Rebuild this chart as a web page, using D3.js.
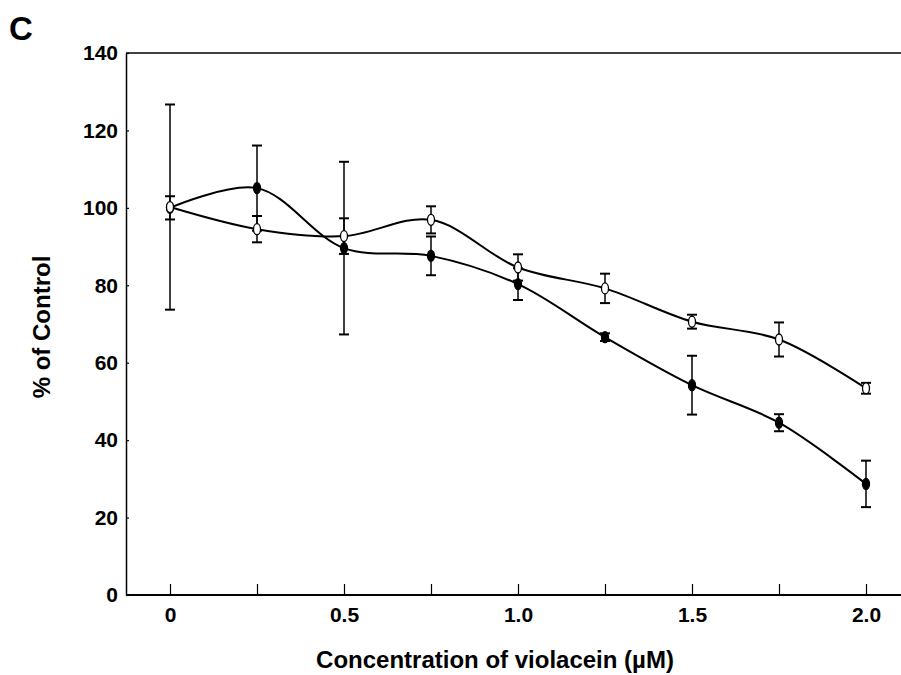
<!DOCTYPE html>
<html>
<head>
<meta charset="utf-8">
<script src="https://cdn.jsdelivr.net/npm/d3@7"></script>
<style>
  body { margin: 0; background: #fff; }
  text { font-family: "Liberation Sans", Arial, sans-serif; font-weight: bold; fill: #000; }
</style>
</head>
<body>
<div id="chart"></div>
<script>
// concentrations (uM)
var conc = [0, 0.25, 0.5, 0.75, 1.0, 1.25, 1.5, 1.75, 2.0];
// filled circles
var filledMean = [100, 105.1, 89.6, 87.6, 80.3, 66.6, 54.2, 44.5, 28.7];
var filledErr  = [3, 11, 22.3, 5, 4.1, 1, 7.6, 2.2, 6];
// open circles
var openMean = [100.2, 94.5, 92.7, 96.9, 84.6, 79.2, 70.6, 66, 53.4];
var openErr  = [26.5, 3.4, 4.6, 3.5, 3.4, 3.8, 1.8, 4.4, 1.4];

var xTicks = [0, 0.25, 0.5, 0.75, 1.0, 1.25, 1.5, 1.75, 2.0];
var xTickLabels = {0: "0", 0.5: "0.5", 1: "1.0", 1.5: "1.5", 2: "2.0"};
var yTicks = [0, 20, 40, 60, 80, 100, 120, 140];

var width = 901, height = 675;

var svg = d3.select("#chart").append("svg")
    .attr("width", width)
    .attr("height", height);

var x = d3.scaleLinear().domain([0, 2]).range([170, 866]),
    y = d3.scaleLinear().domain([0, 140]).range([595, 53]);

var left = 126, right = 901;

// frame top line
svg.append("line")
    .attr("x1", left).attr("x2", right)
    .attr("y1", y(140)).attr("y2", y(140))
    .attr("stroke", "#000").attr("stroke-width", 1.5);

// x axis
var xaxis = svg.append("g")
    .attr("transform", "translate(0," + y(0) + ")")
    .call(d3.axisBottom(x)
        .tickValues(xTicks)
        .tickSizeInner(-11)
        .tickSizeOuter(0)
        .tickPadding(16)
        .tickFormat(function(d) { return xTickLabels[d] || ""; }));
xaxis.select(".domain").remove();
xaxis.selectAll("line").attr("stroke", "#000").attr("stroke-width", 1.2);
xaxis.selectAll("text").style("font-size", "21px").attr("font-family", null).attr("dy", "0.5em");
svg.append("line")
    .attr("x1", left).attr("x2", right)
    .attr("y1", y(0)).attr("y2", y(0))
    .attr("stroke", "#000").attr("stroke-width", 2);

// y axis
var yaxis = svg.append("g")
    .attr("transform", "translate(" + left + ",0)")
    .call(d3.axisLeft(y)
        .tickValues(yTicks)
        .tickSizeInner(-3)
        .tickSizeOuter(0)
        .tickPadding(8));
yaxis.select(".domain").attr("stroke", "#000").attr("stroke-width", 1.5);
yaxis.selectAll("line").attr("stroke", "#000").attr("stroke-width", 1.2);
yaxis.selectAll("text").style("font-size", "21px").attr("font-family", null);

// titles
svg.append("text")
    .attr("x", 495).attr("y", 668)
    .attr("text-anchor", "middle")
    .style("font-size", "24px")
    .text("Concentration of violacein (\u00b5M)");

svg.append("text")
    .attr("transform", "translate(50,327) rotate(-90)")
    .attr("text-anchor", "middle")
    .style("font-size", "24px")
    .text("% of Control");

svg.append("text")
    .attr("x", 9).attr("y", 40)
    .style("font-size", "33px")
    .text("C");

var series = [
    {mean: filledMean, err: filledErr, fill: "#000"},
    {mean: openMean, err: openErr, fill: "#fff"}
];

var line = d3.line()
    .curve(d3.curveCatmullRom.alpha(0.5))
    .x(function(d) { return x(d[0]); })
    .y(function(d) { return y(d[1]); });

series.forEach(function(s) {
    var pts = conc.map(function(c, i) { return [c, s.mean[i], s.err[i]]; });

    svg.append("path")
        .datum(pts)
        .attr("d", line)
        .attr("fill", "none")
        .attr("stroke", "#000")
        .attr("stroke-width", 2);

    var eb = svg.append("g").selectAll("g")
        .data(pts)
        .enter().append("g");
    eb.append("line")
        .attr("x1", function(d) { return x(d[0]); })
        .attr("x2", function(d) { return x(d[0]); })
        .attr("y1", function(d) { return y(d[1] - d[2]); })
        .attr("y2", function(d) { return y(d[1] + d[2]); })
        .attr("stroke", "#000").attr("stroke-width", 1.5);
    [-1, 1].forEach(function(sg) {
        eb.append("line")
            .attr("x1", function(d) { return x(d[0]) - 5; })
            .attr("x2", function(d) { return x(d[0]) + 5; })
            .attr("y1", function(d) { return y(d[1] + sg * d[2]); })
            .attr("y2", function(d) { return y(d[1] + sg * d[2]); })
            .attr("stroke", "#000").attr("stroke-width", 2);
    });
});

series.forEach(function(s) {
    svg.append("g").selectAll("ellipse")
        .data(conc)
        .enter().append("ellipse")
        .attr("cx", function(d) { return x(d); })
        .attr("cy", function(d, i) { return y(s.mean[i]); })
        .attr("rx", 3.5)
        .attr("ry", 5.5)
        .attr("fill", s.fill)
        .attr("stroke", "#000")
        .attr("stroke-width", 1.3);
});
</script>
</body>
</html>
